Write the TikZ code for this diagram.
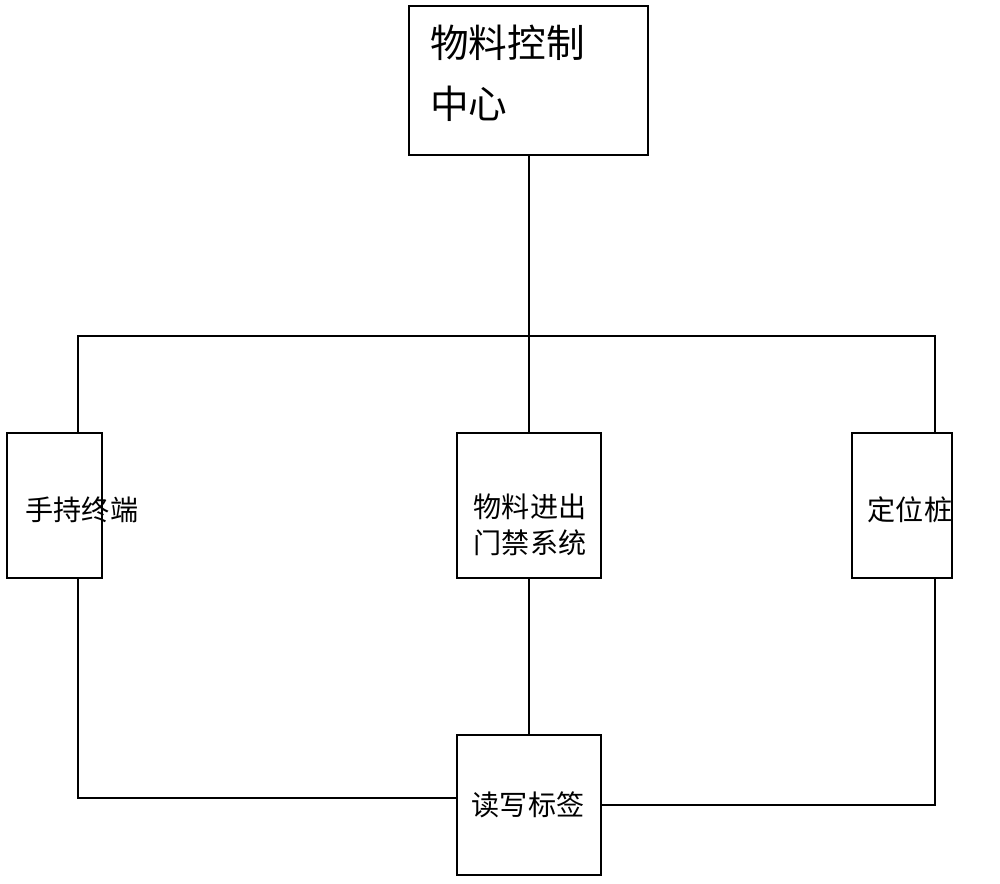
\documentclass[tikz,border=0pt]{standalone}
\usepackage{fontspec}
\newfontfamily\cjk{Noto Sans CJK SC}
\tikzset{box/.style={draw,line width=0.9pt,inner sep=0pt},
 ln/.style={line width=0.9pt},
 lbl/.style={font=\cjk\fontsize{24}{31}\selectfont,align=left,inner sep=0pt}}
\begin{document}
\begin{tikzpicture}[x=0.3mm,y=-0.3mm]
\useasboundingbox (0,0) rectangle (1000,884);
\draw[box] (409,6) rectangle (648,155);
\node[lbl,font=\cjk\fontsize{33}{52}\selectfont,anchor=north west] (top) at (430,25) {物料控制\\中心};
\draw[box] (7,433) rectangle (102,578);
\node[lbl] (hand) at (82,510) {手持终端};
\draw[box] (457,433) rectangle (601,578);
\node[lbl] (gate) at (530,525) {物料进出\\门禁系统};
\draw[box] (852,433) rectangle (952,578);
\node[lbl] (pos) at (910,510) {定位桩};
\draw[box] (457,735) rectangle (601,875);
\node[lbl] (tag) at (528,805) {读写标签};
\coordinate (tb) at (529,155);
\coordinate (j) at (529,336);
\draw[ln] (tb) -- (j);
\draw[ln] (78,433) -- (78,336) -- (935,336) -- (935,433);
\draw[ln] (529,336) -- (529,433);
\draw[ln] (529,578) -- (529,735);
\draw[ln] (78,578) -- (78,798) -- (457,798);
\draw[ln] (935,578) -- (935,805) -- (601,805);
\end{tikzpicture}
\end{document}
